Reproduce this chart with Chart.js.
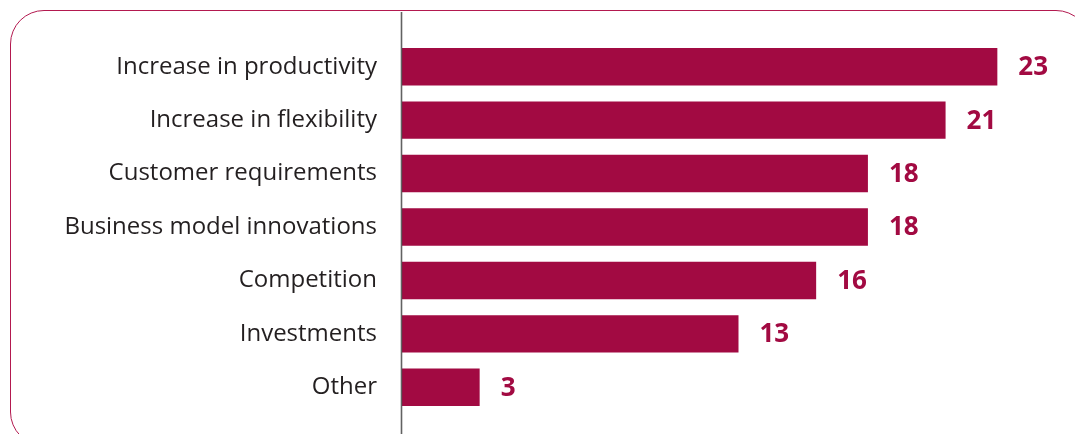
<!DOCTYPE html>
<html>
<head>
<meta charset="utf-8">
<script src="https://cdn.jsdelivr.net/npm/chart.js@4/dist/chart.umd.min.js"></script>
<style>
  html, body { margin: 0; padding: 0; background: #ffffff; }
  #wrap { position: relative; width: 1075px; height: 434px; overflow: hidden; }
  #frame {
    position: absolute; left: 10px; top: 10px;
    width: 1080px; height: 436px; box-sizing: border-box;
    border: 1.5px solid #b3194f; border-radius: 34px;
  }
  #chart { position: absolute; left: 0; top: 0; }
</style>
</head>
<body>
<div id="wrap">
  <div id="frame"></div>
  <canvas id="chart" width="1075" height="434"></canvas>
</div>
<script>
// Reasons given for the change, number of mentions
const categories = [
  'Increase in productivity',
  'Increase in flexibility',
  'Customer requirements',
  'Business model innovations',
  'Competition',
  'Investments',
  'Other'
];
const mentions = [23, 21, 18, 18, 16, 13, 3];

const barColor = '#a20a42';
const labelFont = '"Open Sans", "DejaVu Sans", sans-serif';

// Vertical axis line running the full height of the panel at the zero value
const axisLine = {
  id: 'axisLine',
  afterDatasetsDraw(chart) {
    const ctx = chart.ctx;
    const x = Math.round(chart.scales.x.getPixelForValue(0)) - 0.5;
    ctx.save();
    ctx.strokeStyle = 'rgba(70,70,70,0.85)';
    ctx.lineWidth = 1.6;
    ctx.beginPath();
    ctx.moveTo(x, 12);
    ctx.lineTo(x, chart.height);
    ctx.stroke();
    ctx.restore();
  }
};

// Value written to the right of each bar
const valueLabels = {
  id: 'valueLabels',
  afterDatasetsDraw(chart) {
    const ctx = chart.ctx;
    const meta = chart.getDatasetMeta(0);
    const data = chart.data.datasets[0].data;
    ctx.save();
    ctx.fillStyle = barColor;
    ctx.font = 'bold 26px ' + labelFont;
    ctx.textAlign = 'left';
    ctx.textBaseline = 'middle';
    meta.data.forEach((bar, i) => {
      ctx.fillText(String(data[i]), bar.x + 21, bar.y + 1);
    });
    ctx.restore();
  }
};

new Chart(document.getElementById('chart'), {
  type: 'bar',
  data: {
    labels: categories,
    datasets: [{
      data: mentions,
      backgroundColor: barColor,
      borderWidth: 0,
      barPercentage: 0.7,
      categoryPercentage: 1.0
    }]
  },
  options: {
    indexAxis: 'y',
    responsive: false,
    animation: false,
    layout: { padding: { top: 40, bottom: 20, left: 0, right: 0 } },
    plugins: { legend: { display: false }, tooltip: { enabled: false } },
    scales: {
      x: {
        display: false,
        min: 0,
        max: 26
      },
      y: {
        afterFit(scale) {
          scale.width = 402;
          scale.paddingTop = 0;
          scale.paddingBottom = 0;
        },
        grid: { display: false, drawTicks: false },
        border: { display: false },
        ticks: {
          padding: 25,
          color: '#231f20',
          font: { family: labelFont, size: 24 }
        }
      }
    }
  },
  plugins: [axisLine, valueLabels]
});
</script>
</body>
</html>
